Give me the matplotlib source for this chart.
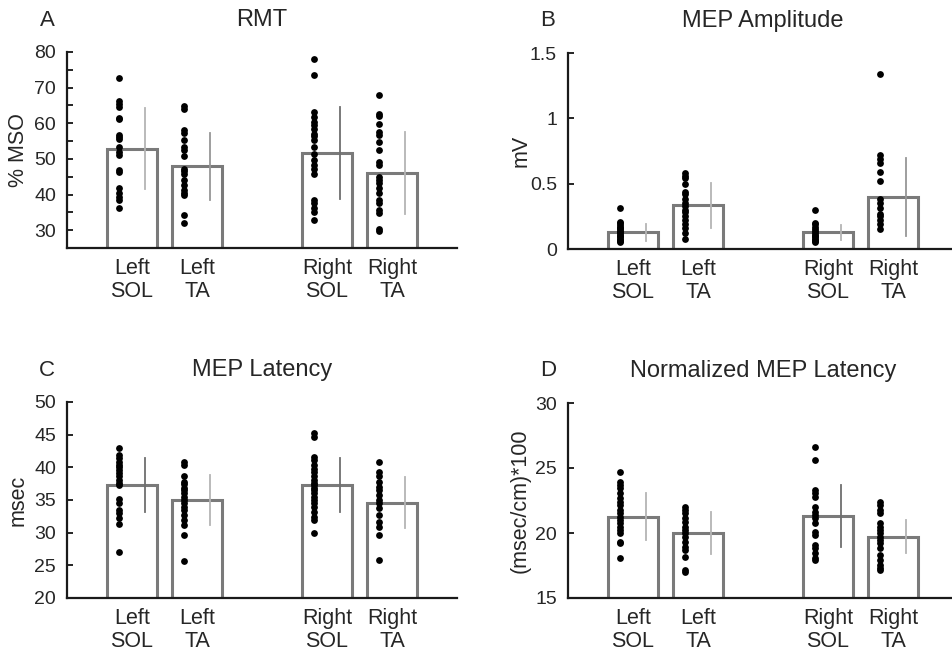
import numpy as np
import matplotlib
matplotlib.use('Agg')
import matplotlib.pyplot as plt

plt.rcParams['font.family'] = ['Liberation Sans', 'DejaVu Sans']

groups = ['Left\nSOL', 'Left\nTA', 'Right\nSOL', 'Right\nTA']
xpos = [1, 2, 4, 5]

# A - RMT (% MSO)
rmt_mean = [52.9, 47.9, 51.7, 46.1]
rmt_sd = [11.3, 9.4, 12.9, 11.5]
rmt_dots = [
    [72.8, 66.3, 65.5, 64.6, 61.6, 61.1, 56.8, 56.2, 55.7, 53.4, 52.0, 51.1,
     46.8, 46.4, 41.7, 40.3, 39.3, 38.4, 36.1],
    [64.8, 64.1, 58.0, 57.3, 55.4, 53.4, 52.6, 50.7, 47.3, 46.6, 45.7, 44.0,
     42.8, 41.4, 40.3, 39.8, 34.2, 31.9],
    [78.1, 73.5, 63.2, 61.8, 60.4, 59.4, 58.5, 57.1, 56.4, 55.2, 53.4, 51.5,
     49.8, 48.2, 47.3, 45.9, 38.4, 37.5, 36.1, 35.1, 32.8],
    [68.0, 62.7, 62.0, 59.9, 57.6, 56.6, 54.8, 52.4, 49.2, 48.2, 45.0, 44.0,
     43.1, 41.7, 40.3, 38.4, 37.5, 35.6, 34.7, 30.2, 29.7],
]

# B - MEP amplitude (mV)
amp_mean = [0.127, 0.333, 0.127, 0.40]
amp_sd = [0.065, 0.17, 0.06, 0.30]
amp_dots = [
    [0.31, 0.21, 0.20, 0.18, 0.17, 0.16, 0.15, 0.14, 0.13, 0.12, 0.11, 0.10,
     0.09, 0.08, 0.07, 0.06, 0.05],
    [0.58, 0.56, 0.54, 0.50, 0.44, 0.42, 0.38, 0.35, 0.33, 0.30, 0.28, 0.25,
     0.22, 0.19, 0.16, 0.12, 0.08],
    [0.295, 0.20, 0.19, 0.17, 0.15, 0.14, 0.12, 0.11, 0.10, 0.09, 0.08, 0.07,
     0.06, 0.05],
    [1.337, 0.72, 0.69, 0.66, 0.59, 0.52, 0.38, 0.35, 0.31, 0.27, 0.25, 0.22,
     0.19, 0.15],
]

# C - MEP latency (msec)
lat_mean = [37.3, 35.0, 37.3, 34.6]
lat_sd = [4.1, 3.9, 4.2, 3.9]
lat_dots = [
    [43.0, 41.9, 41.4, 40.8, 40.3, 40.0, 39.6, 39.1, 38.6, 38.0, 37.6, 37.3,
     35.1, 34.6, 33.5, 33.0, 32.2, 31.4, 27.1],
    [40.8, 40.3, 38.6, 37.8, 37.4, 36.9, 36.5, 36.0, 35.5, 35.0, 34.5, 34.0,
     33.4, 32.7, 31.9, 31.2, 29.7, 25.6],
    [45.3, 44.7, 41.6, 41.1, 40.3, 39.8, 39.3, 38.6, 38.0, 37.6, 37.3, 36.9,
     36.5, 36.0, 35.5, 35.0, 34.5, 34.0, 33.2, 32.4, 31.9, 30.0],
    [40.8, 39.3, 38.6, 37.8, 37.0, 36.5, 35.8, 35.0, 34.5, 33.7, 32.7, 31.7,
     30.9, 29.7, 25.8],
]

# D - normalized MEP latency ((msec/cm)*100)
nlat_mean = [21.26, 19.98, 21.31, 19.73]
nlat_sd = [1.8, 1.6, 2.35, 1.3]
nlat_dots = [
    [24.66, 23.94, 23.69, 23.43, 23.05, 22.67, 22.41, 22.16, 21.77, 21.52,
     21.26, 21.01, 20.75, 20.49, 20.24, 19.98, 19.34, 19.22, 18.07],
    [22.03, 21.77, 21.52, 21.13, 20.88, 20.49, 20.24, 19.98, 19.73, 19.34,
     18.96, 18.71, 18.19, 17.17, 16.97],
    [26.63, 25.61, 23.31, 23.05, 22.79, 22.03, 21.64, 21.39, 21.13, 20.75,
     20.11, 19.86, 19.09, 18.83, 18.45, 18.07, 17.94],
    [22.41, 22.16, 21.77, 21.52, 20.75, 20.49, 20.24, 19.98, 19.73, 19.47,
     19.22, 18.83, 18.32, 17.94, 17.56, 17.30, 17.12],
]

W, H = 953, 654
fig = plt.figure(figsize=(W / 100, H / 100), dpi=100)

txt = '#262626'
light, mid, dark = '#b4b4b4', '#969696', '#6e6e6e'

panels = [
    # letter, title, ylabel, mean, sd, dots, ylim, yticks, ticklabels, box px (l, top, bottom), errcolors, label x px
    ('A', 'RMT', '% MSO', rmt_mean, rmt_sd, rmt_dots, (25, 80),
     [30, 40, 50, 60, 70, 80], None, (67, 52, 248), [light, mid, dark, light], 29),
    ('B', 'MEP Amplitude', 'mV', amp_mean, amp_sd, amp_dots, (0, 1.5),
     [0, 0.5, 1, 1.5], ['0', '0.5', '1', '1.5'], (568, 53, 249),
     [light, light, light, mid], 532),
    ('C', 'MEP Latency', 'msec', lat_mean, lat_sd, lat_dots, (20, 50),
     [20, 25, 30, 35, 40, 45, 50], None, (67, 402, 598), [dark, light, dark, light], 29),
    ('D', 'Normalized MEP Latency', '(msec/cm)*100', nlat_mean, nlat_sd, nlat_dots,
     (15, 30), [15, 20, 25, 30], None, (568, 403, 598), [light, light, dark, light], 531),
]

for letter, title, ylab, mean, sd, dots, ylim, yticks, ylabels, box, ecols, labx in panels:
    l, t, b = box
    ax = fig.add_axes([l / W, (H - b) / H, 390 / W, (b - t) / H])
    ax.bar(xpos, mean, width=0.78, color='white', edgecolor='#7a7a7a',
           linewidth=2.2, zorder=2)
    for i, x in enumerate(xpos):
        ax.plot([x + 0.2, x + 0.2], [mean[i] - sd[i], mean[i] + sd[i]],
                color=ecols[i], lw=1.3, zorder=3)
        ax.scatter(np.full(len(dots[i]), x - 0.2), dots[i], s=24, color='black',
                   marker='o', linewidths=0, zorder=4)
    ax.set_xlim(0, 6)
    ax.set_ylim(*ylim)
    ax.set_yticks(yticks)
    if ylabels is not None:
        ax.set_yticklabels(ylabels)
    if letter == 'A':
        ax.set_yticks(np.arange(35, 80, 10), minor=True)
        ax.tick_params(axis='y', which='minor', direction='in', length=4, width=1.2)
    ax.set_xticks(xpos)
    ax.set_xticklabels(groups, fontsize=15.5, color=txt, linespacing=1.15)
    ax.tick_params(axis='x', direction='in', length=3, width=0.8, pad=7)
    ax.tick_params(axis='y', direction='in', length=4, width=1.2, pad=8,
                   labelsize=14, labelcolor=txt)
    for s in ['top', 'right']:
        ax.spines[s].set_visible(False)
    for s in ['left', 'bottom']:
        ax.spines[s].set_linewidth(1.6)
        ax.spines[s].set_color('#1a1a1a')
    ax.spines['bottom'].set_zorder(5)
    ax.set_ylabel(ylab, fontsize=15.5, color=txt)
    ax.yaxis.set_label_coords((labx - l) / 390, 0.5)

    cx = (l + 195) / W
    ty = 1 - (t - 32) / H
    fig.text(cx, ty, title, ha='center', va='center', fontsize=17, color=txt)
    fig.text((l - 20) / W, ty, letter, ha='center', va='center', fontsize=16, color=txt)

fig.savefig('out.png', dpi=100, facecolor='white')
